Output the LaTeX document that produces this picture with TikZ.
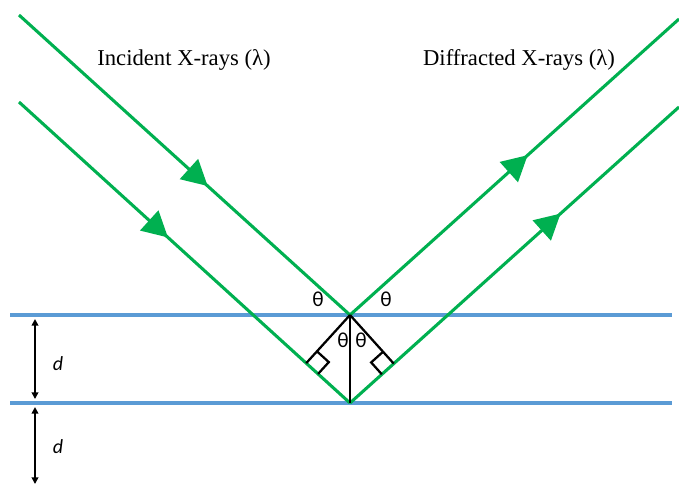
\documentclass[tikz,border=0pt]{standalone}
\usepackage{fontspec}
\setmainfont{Liberation Serif}
\newfontfamily\calibri{Carlito}
\usetikzlibrary{arrows.meta, calc, decorations.markings}
\definecolor{raygreen}{RGB}{0,176,80}
\definecolor{planeblue}{RGB}{91,155,213}

\begin{document}
\begin{tikzpicture}[
    x=0.75pt, y=-0.75pt,
    plane/.style={planeblue, line width=2.3pt},
    ray/.style={raygreen, line width=2.3pt},
    raymark/.style={postaction={decorate}, decoration={markings,
        mark=at position #1 with {\arrow{Triangle[length=19pt, width=20pt]}}}},
    geom/.style={black, line width=1.7pt},
    dimline/.style={black, line width=1.3pt, {Triangle[length=5pt, width=5pt]}-{Triangle[length=5pt, width=5pt]}},
    angle/.style={font=\calibri\fontsize{16}{18}\selectfont, inner sep=0pt},
    spacing/.style={font=\calibri\itshape\fontsize{15}{17}\selectfont, inner sep=0pt},
    caption/.style={font=\fontsize{17}{20}\selectfont, inner sep=0pt}
]
    \useasboundingbox (0,0) rectangle (679,487);

    % atomic planes
    \coordinate (p1l) at (10,315);
    \coordinate (p1r) at (672,315);
    \coordinate (p2l) at (10,403);
    \coordinate (p2r) at (672,403);
    \draw[plane] (p1l) -- (p1r);
    \draw[plane] (p2l) -- (p2r);

    % scattering points and ray ends
    \coordinate (A) at (350,315);
    \coordinate (B) at (350,403);
    \coordinate (in1) at (19,15);
    \coordinate (in2) at (19,102);
    \coordinate (out1) at (679,19);
    \coordinate (out2) at (679,107);

    % incident and diffracted rays
    \draw[ray, raymark=0.57] (in1) -- (A);
    \draw[ray, raymark=0.45] (in2) -- (B);
    \draw[ray, raymark=0.54] (A) -- (out1);
    \draw[ray, raymark=0.64] (B) -- (out2);

    % path difference construction
    \coordinate (F1) at ($(B)!(A)!(in2)$);
    \coordinate (F2) at ($(B)!(A)!(out2)$);
    \draw[geom] (A) -- (B);
    \draw[geom] (A) -- (F1);
    \draw[geom] (A) -- (F2);
    \coordinate (F1a) at ($(F1)!12pt!(A)$);
    \coordinate (F1b) at ($(F1)!12pt!(B)$);
    \coordinate (F2a) at ($(F2)!12pt!(A)$);
    \coordinate (F2b) at ($(F2)!12pt!(B)$);
    \draw[geom] (F1a) -- ($(F1a)+(F1b)-(F1)$) -- (F1b);
    \draw[geom] (F2a) -- ($(F2a)+(F2b)-(F2)$) -- (F2b);

    % angles
    \node[angle] (th1) at (318,299) {θ};
    \node[angle] (th2) at (386,299) {θ};
    \node[angle] (th3) at (343,340) {θ};
    \node[angle] (th4) at (361,340) {θ};

    % plane spacing
    \coordinate (d1t) at (35,319);
    \coordinate (d1b) at (35,399);
    \coordinate (d2t) at (35,407);
    \coordinate (d2b) at (35,484);
    \draw[dimline] (d1t) -- (d1b);
    \draw[dimline] (d2t) -- (d2b);
    \node[spacing] (dd1) at (58,364) {d};
    \node[spacing] (dd2) at (58,447) {d};

    % labels
    \node[caption] (inc) at (184,60) {Incident X-rays (λ)};
    \node[caption] (dif) at (519,60) {Diffracted X-rays (λ)};
\end{tikzpicture}
\end{document}
